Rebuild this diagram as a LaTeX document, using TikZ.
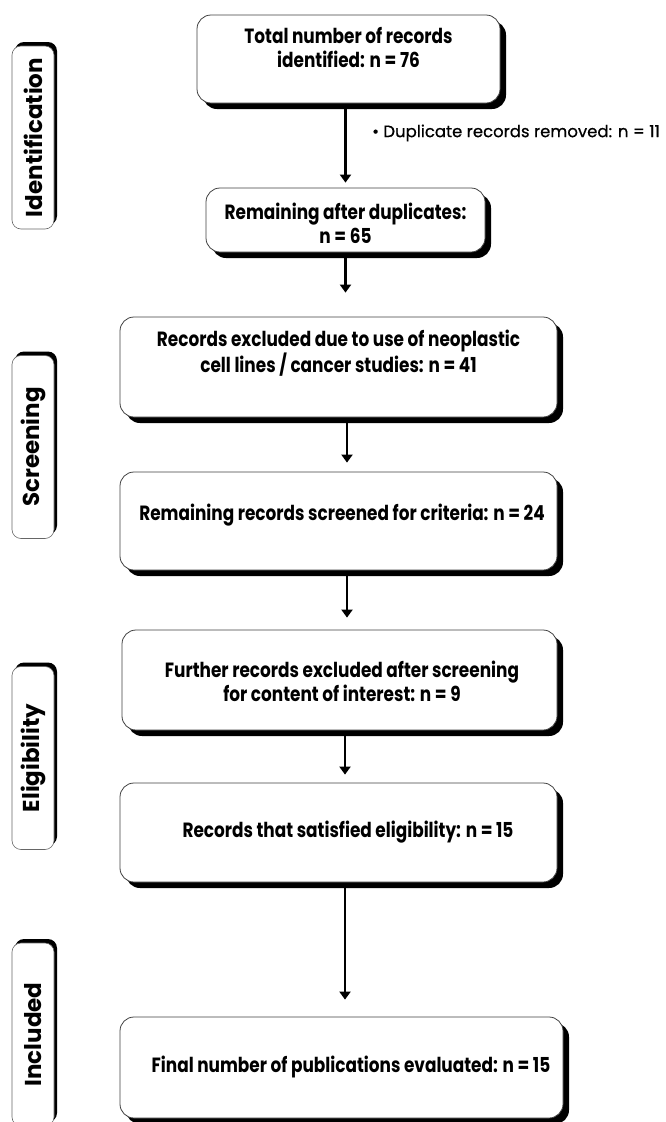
\documentclass[tikz,border=0pt]{standalone}
\usepackage{fontspec}
\setmainfont{Poppins}
\newfontfamily\boxfont{Poppins}[FakeStretch=0.82]
\newfontfamily\notefont{Poppins}[FakeBold=0.6]
\usetikzlibrary{arrows.meta,shadows,calc}
\tikzset{
  flowbox/.style={draw=black!75, line width=0.8pt, fill=white, rounded corners=14pt,
    inner sep=0pt,
    general shadow={fill=black, shadow xshift=6pt, shadow yshift=-6pt}},
  boxtext/.style={align=center, inner sep=0pt, font=\boxfont\bfseries\fontsize{20.6}{24}\selectfont},
  phase/.style={draw=black!60, line width=0.6pt, fill=white, rounded corners=9pt,
    inner sep=0pt, minimum width=42pt, minimum height=183pt,
    font=\bfseries\fontsize{23}{26}\selectfont,
    general shadow={fill=black, shadow xshift=3pt, shadow yshift=4pt}},
  arr/.style={line width=2.6pt, -{Triangle[width=11pt,length=8pt]}},
}
\begin{document}
\begin{tikzpicture}[x=1pt,y=-1pt]
\useasboundingbox (0,0) rectangle (666,1122);
% boxes
\node[flowbox, minimum width=303pt, minimum height=88pt] (b1) at (348.5,59) {};
\node[flowbox, minimum width=279pt, minimum height=64pt] (b2) at (345.5,220) {};
\node[flowbox, minimum width=437pt, minimum height=100pt] (b3) at (338.5,367) {};
\node[flowbox, minimum width=437pt, minimum height=98pt] (b4) at (338.5,521) {};
\node[flowbox, minimum width=435pt, minimum height=100pt] (b5) at (339.5,680) {};
\node[flowbox, minimum width=437pt, minimum height=99pt] (b6) at (338.5,832.5) {};
\node[flowbox, minimum width=443pt, minimum height=101pt] (b7) at (341.5,1067.5) {};
% texts
\node[boxtext] (t1) at (348.5,48) {Total number of records\\identified: n = 76};
\node[boxtext] (t2) at (345.5,223.5) {Remaining after duplicates:\\n = 65};
\node[boxtext] (t3) at (338.5,353.5) {Records excluded due to use of neoplastic\\cell lines / cancer studies: n = 41};
\node[boxtext] (t4) at (342,515) {Remaining records screened for criteria: n = 24};
\node[boxtext] (t5) at (342,681.5) {Further records excluded after screening\\for content of interest: n = 9};
\node[boxtext] (t6) at (348,832) {Records that satisfied eligibility: n = 15};
\node[boxtext] (t7) at (351,1067) {Final number of publications evaluated: n = 15};
% side note
\node[anchor=west, inner sep=0pt, font=\notefont\fontsize{16.5}{18}\selectfont] (dup) at (372,133) {\textbullet\ Duplicate records removed: n = 11};
% phase labels
\node[phase] (p1) at (33,137.5) {\rotatebox{90}{Identification}};
\node[phase] (p2) at (33,447) {\rotatebox{90}{Screening}};
\node[phase] (p3) at (33,758) {\rotatebox{90}{Eligibility}};
\node[phase] (p4) at (33,1034.5) {\rotatebox{90}{Included}};
% arrows
\draw[arr, shorten >=5pt] ([xshift=-3pt,yshift=-6pt]b1.south) -- ([xshift=-3pt]b1.south |- b2.north);
\draw[arr, shorten >=24pt] ([yshift=-6pt]b2.south) -- (b2.south |- b3.north);
\draw[arr, shorten >=9pt] ([xshift=8.5pt,yshift=-6pt]b3.south) -- ([xshift=8.5pt]b3.south |- b4.north);
\draw[arr, shorten >=12pt] ([xshift=8.5pt,yshift=-6pt]b4.south) -- ([xshift=8.5pt]b4.south |- b5.north);
\draw[arr, shorten >=8pt] ([xshift=5.5pt,yshift=-6pt]b5.south) -- ([xshift=5.5pt]b5.south |- b6.north);
\draw[arr, shorten >=17pt] ([xshift=6.5pt,yshift=-6pt]b6.south) -- ([xshift=6.5pt]b6.south |- b7.north);
\end{tikzpicture}
\end{document}
